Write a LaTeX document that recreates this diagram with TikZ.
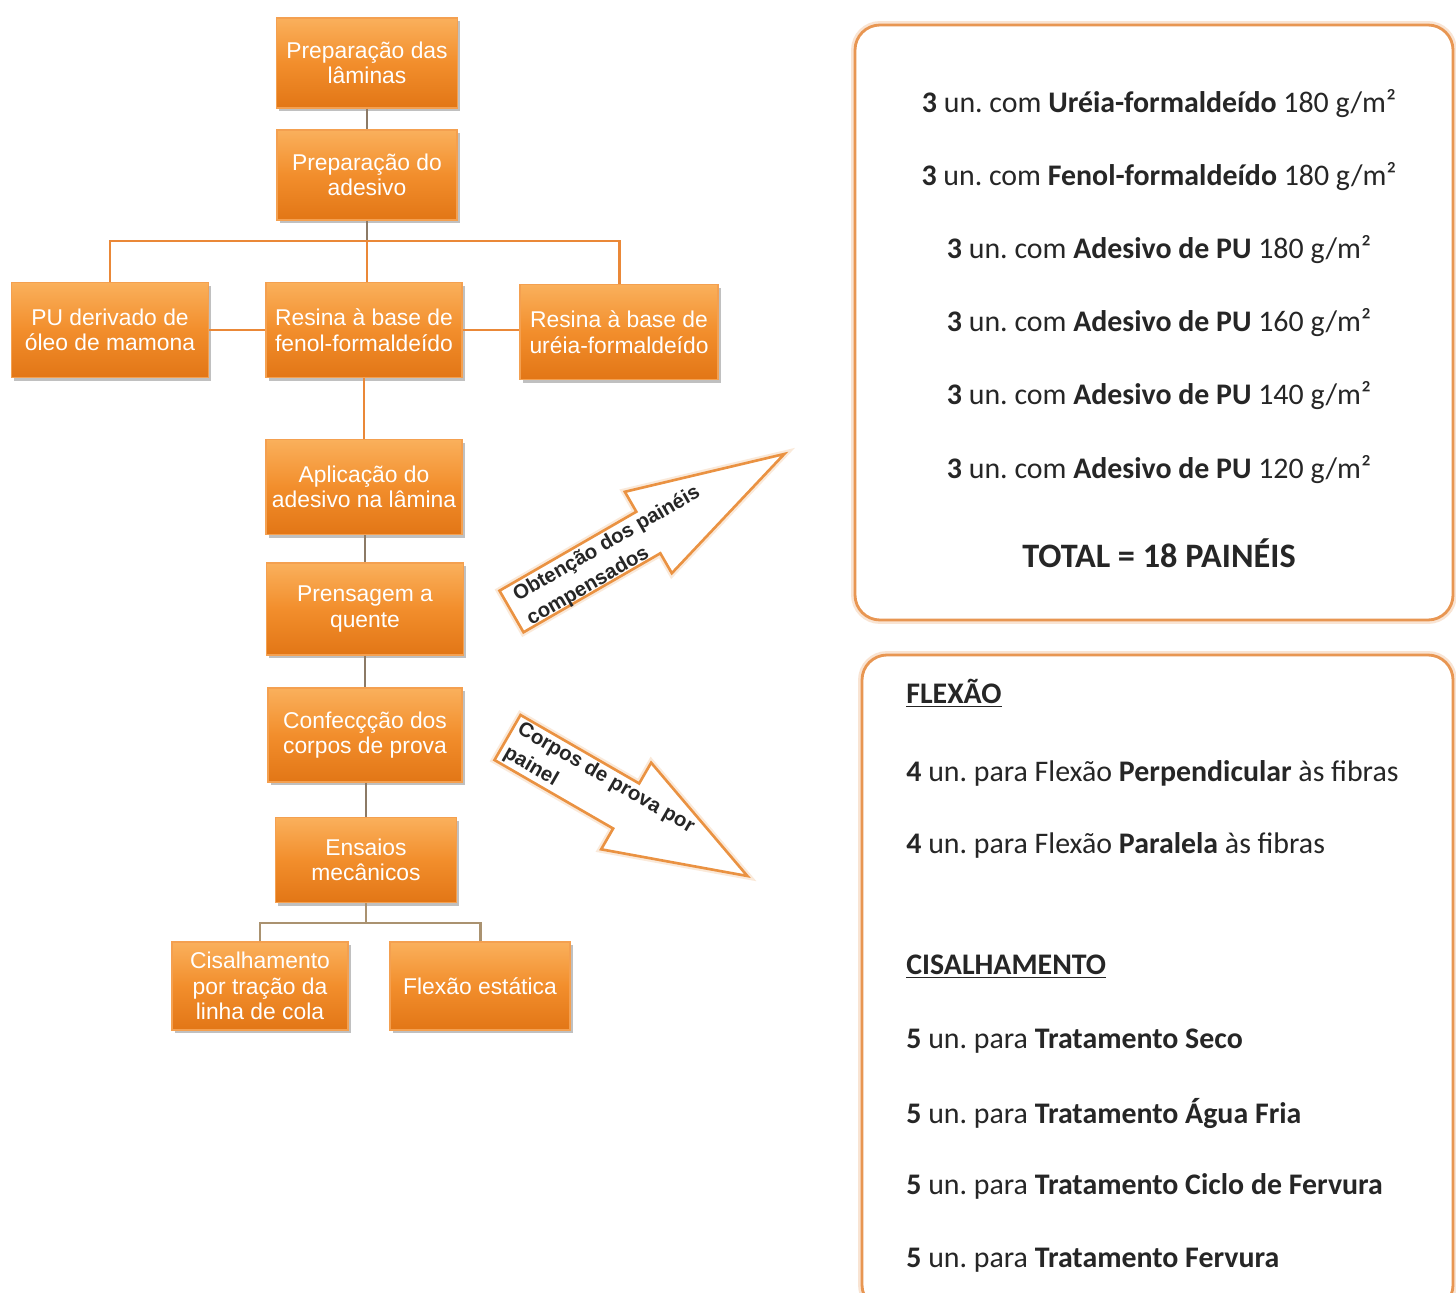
\documentclass[tikz,border=0pt]{standalone}
\usepackage{fontspec}
\setmainfont{Carlito}
\newfontfamily\arialf{Liberation Sans}
\usetikzlibrary{shadows}
\definecolor{boxtop}{RGB}{250,176,92}
\definecolor{boxmid}{RGB}{242,142,44}
\definecolor{boxbot}{RGB}{226,118,22}
\definecolor{boxline}{RGB}{244,160,80}
\definecolor{orline}{RGB}{234,136,56}
\definecolor{grline}{RGB}{140,122,102}
\definecolor{tanline}{RGB}{170,146,112}
\definecolor{frameor}{RGB}{232,150,82}
\definecolor{arrowor}{RGB}{234,146,66}
\tikzset{
  flowbox/.style={rectangle, top color=boxtop, bottom color=boxbot, middle color=boxmid,
    draw=boxline, line width=0.6pt, text=white, align=center,
    font=\arialf\fontsize{13}{14.6}\selectfont, inner sep=1pt,
    drop shadow={shadow xshift=1.6pt, shadow yshift=-1.8pt, opacity=0.35, fill=black!70}},
  orconn/.style={draw=orline, line width=1.7pt},
  grconn/.style={draw=grline, line width=1.7pt},
  tanconn/.style={draw=tanline, line width=1.7pt},
  frame/.style={draw=frameor, line width=1.6pt, rounded corners=0.5cm, fill=white},
  frameglow/.style={draw=frameor, line width=4.5pt, rounded corners=0.5cm, opacity=0.25},
  blockarrow/.style={draw=arrowor, line width=1.5pt, fill=white, line join=miter},
  arrowglow/.style={draw=arrowor, line width=4pt, opacity=0.2, line join=miter},
  arrowtext/.style={font=\arialf\bfseries\fontsize{11.6}{15.5}\selectfont, align=left, text=black!85, inner sep=0pt},
  rtext/.style={font=\frenchspacing\fontsize{17}{20}\selectfont, text=black!85, inner sep=0pt},
}
\begin{document}
\begin{tikzpicture}[x=0.02cm, y=-0.02cm]
\useasboundingbox (0,0) rectangle (1456,1293);
\fill[white] (0,0) rectangle (1456,1293);

% ---- left flow chart boxes ----
\node[flowbox, minimum width=181*0.02cm, minimum height=90*0.02cm] (b1) at (367,63) {Preparação das\\lâminas};
\node[flowbox, minimum width=180*0.02cm, minimum height=90*0.02cm] (b2) at (367,175) {Preparação do\\adesivo};
\node[flowbox, minimum width=197*0.02cm, minimum height=95*0.02cm] (b3) at (110,330) {PU derivado de\\óleo de mamona};
\node[flowbox, minimum width=196*0.02cm, minimum height=95*0.02cm] (b4) at (364,330) {Resina à base de\\fenol-formaldeído};
\node[flowbox, minimum width=198*0.02cm, minimum height=95*0.02cm] (b5) at (619,332) {Resina à base de\\uréia-formaldeído};
\node[flowbox, minimum width=196*0.02cm, minimum height=95*0.02cm] (b6) at (364,487) {Aplicação do\\adesivo na lâmina};
\node[flowbox, minimum width=197*0.02cm, minimum height=92*0.02cm] (b7) at (365,609) {Prensagem a\\quente};
\node[flowbox, minimum width=194*0.02cm, minimum height=94*0.02cm] (b8) at (365,735) {Confecçção dos\\corpos de prova};
\node[flowbox, minimum width=181*0.02cm, minimum height=85*0.02cm] (b9) at (366,860) {Ensaios\\mecânicos};
\node[flowbox, minimum width=176*0.02cm, minimum height=88*0.02cm] (b10) at (260,986) {Cisalhamento\\por tração da\\linha de cola};
\node[flowbox, minimum width=180*0.02cm, minimum height=88*0.02cm] (b11) at (480,986) {Flexão estática};

% ---- connectors ----
\coordinate (j1) at (367,241);
\coordinate (j2) at (366,923);
\draw[grconn] (b1.south) -- (b2.north);
\draw[grconn] (b2.south) -- (j1);
\draw[orconn] (b3.north) |- (j1) -| (b5.north);
\draw[orconn] (j1) -- (j1 |- b4.north);
\draw[orconn] (b3.east) -- (b4.west);
\draw[orconn] (b4.east) -- (b4.east -| b5.west);
\draw[orconn] (b4.south) -- (b6.north);
\draw[grconn] (b6.south -| b7.north) -- (b7.north);
\draw[grconn] (b7.south) -- (b8.north);
\draw[grconn] (b8.south -| b9.north) -- (b9.north);
\draw[tanconn] (b9.south) -- (j2);
\draw[tanconn] (b10.north) |- (j2) -| (b11.north);

% ---- block arrows ----
\begin{scope}[shift={(511.5,611.5)}, rotate=30]
  \draw[arrowglow] (0,-24) -- (158,-24) -- (158,-47) -- (315,0) -- (158,47) -- (158,24) -- (0,24) -- cycle;
  \draw[blockarrow] (0,-24) -- (158,-24) -- (158,-47) -- (315,0) -- (158,47) -- (158,24) -- (0,24) -- cycle;
  \node[arrowtext, anchor=west, rotate=30] (t1) at (10,3) {Obtenção dos painéis\\compensados};
\end{scope}
\begin{scope}[shift={(507.5,737.5)}, rotate=-30]
  \draw[arrowglow] (0,-26) -- (137,-26) -- (137,-50) -- (277,0) -- (137,50) -- (137,26) -- (0,26) -- cycle;
  \draw[blockarrow] (0,-26) -- (137,-26) -- (137,-50) -- (277,0) -- (137,50) -- (137,26) -- (0,26) -- cycle;
  \node[arrowtext, anchor=west, rotate=-30] (t2) at (5,0) {Corpos de prova por\\painel};
\end{scope}

% ---- right frames ----
\draw[frameglow] (855,25) rectangle (1453,620);
\draw[frame] (855,25) rectangle (1453,620);
\draw[frameglow] (862,655) rectangle (1453,1310);
\draw[frame] (862,655) rectangle (1453,1310);

\node[rtext] (r1) at (1159,104) {\textbf{3} un. com \textbf{Uréia-formaldeído} 180 g/m²};
\node[rtext] (r2) at (1159,177) {\textbf{3} un. com \textbf{Fenol-formaldeído} 180 g/m²};
\node[rtext] (r3) at (1159,250) {\textbf{3} un. com \textbf{Adesivo de PU} 180 g/m²};
\node[rtext] (r4) at (1159,323) {\textbf{3} un. com \textbf{Adesivo de PU} 160 g/m²};
\node[rtext] (r5) at (1159,396) {\textbf{3} un. com \textbf{Adesivo de PU} 140 g/m²};
\node[rtext] (r6) at (1159,470) {\textbf{3} un. com \textbf{Adesivo de PU} 120 g/m²};
\node[rtext, font=\bfseries\fontsize{19.5}{22}\selectfont] (r7) at (1159,553) {TOTAL = 18 PAINÉIS};

\node[rtext, anchor=west] (s1) at (906,693) {\textbf{\underline{FLEXÃO}}};
\node[rtext, anchor=west] (s2) at (906,773) {\textbf{4} un. para Flexão \textbf{Perpendicular} às fibras};
\node[rtext, anchor=west] (s3) at (906,845) {\textbf{4} un. para Flexão \textbf{Paralela} às fibras};
\node[rtext, anchor=west] (s4) at (906,967) {\textbf{\underline{CISALHAMENTO}}};
\node[rtext, anchor=west] (s5) at (906,1041) {\textbf{5} un. para \textbf{Tratamento Seco}};
\node[rtext, anchor=west] (s6) at (906,1113) {\textbf{5} un. para \textbf{Tratamento Água Fria}};
\node[rtext, anchor=west] (s7) at (906,1186) {\textbf{5} un. para \textbf{Tratamento Ciclo de Fervura}};
\node[rtext, anchor=west] (s8) at (906,1260) {\textbf{5} un. para \textbf{Tratamento Fervura}};
\end{tikzpicture}
\end{document}
